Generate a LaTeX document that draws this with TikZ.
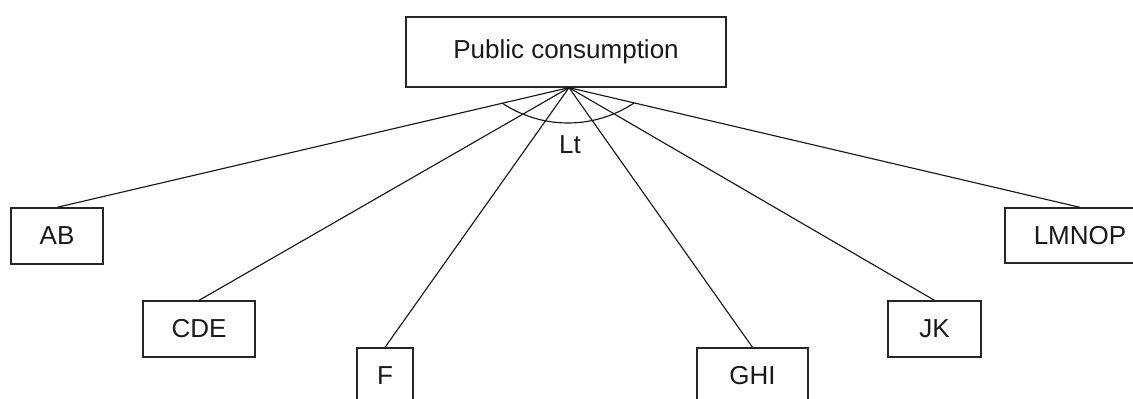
\documentclass[tikz,border=0pt]{standalone}
\usepackage{fontspec}
\setmainfont{Liberation Sans}
\begin{document}
\begin{tikzpicture}[x=1pt,y=1pt,
  box/.style={draw=black!85,line width=1.3pt,inner sep=0pt,font=\fontsize{26}{31}\selectfont,text=black!90},
  link/.style={draw=black!90,line width=1.15pt}]
\useasboundingbox (0,0) rectangle (1133,399);
\clip (0,0) rectangle (1133,399);
\node[box,minimum width=320,minimum height=70] (top) at (566,347) {Public consumption};
\node[box,minimum width=92,minimum height=56] (ab) at (57,163) {AB};
\node[box,minimum width=112,minimum height=56] (cde) at (199,70) {CDE};
\node[box,minimum width=56,minimum height=56] (f) at (385,23) {F};
\node[box,minimum width=111,minimum height=56] (ghi) at (752.5,23) {GHI};
\node[box,minimum width=93,minimum height=56] (jk) at (934.5,70) {JK};
\node[box,minimum width=150,minimum height=55] (lmnop) at (1080,163.5) {LMNOP};
\coordinate (apex) at ([xshift=3pt]top.south);
\foreach \n in {ab,cde,f,ghi,jk,lmnop}{\draw[link] (apex) -- (\n.north);}
\draw[link] (502,296) arc[start angle=236.3,end angle=303.7,radius=119];
\node[font=\fontsize{26}{31}\selectfont,text=black!90] (lt) at (570,254) {Lt};
\end{tikzpicture}
\end{document}
